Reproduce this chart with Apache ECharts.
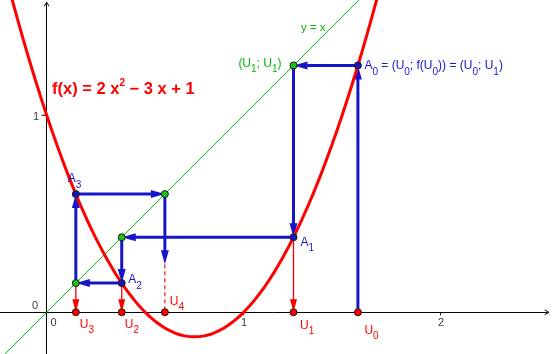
<!DOCTYPE html>
<html><head><meta charset="utf-8">
<script src="https://cdn.jsdelivr.net/npm/echarts@6.0.0/dist/echarts.min.js"></script>
<style>html,body{margin:0;padding:0;background:#fff}#c{width:552px;height:354px}</style>
</head><body><div id="c"></div>
<script>
// ---- data ----
const U = [1.58, 1.253, 0.381, 0.148, 0.600];      // U0..U4
const lastVectorEndY = 0.244;                        // end of the last blue vector
const curveX = [-0.20,-0.15,-0.10,-0.05,0.00,0.05,0.10,0.15,0.20,0.25,0.30,0.35,0.40,0.45,0.50,0.55,0.60,0.65,0.70,0.75,0.80,0.85,0.90,0.95,1.00,1.05,1.10,1.15,1.20,1.25,1.30,1.35,1.40,1.45,1.50,1.55,1.60,1.65,1.70];
const curveY = [1.68,1.495,1.32,1.155,1,0.855,0.72,0.595,0.48,0.375,0.28,0.195,0.12,0.055,0,-0.045,-0.08,-0.105,-0.12,-0.125,-0.12,-0.105,-0.08,-0.045,0,0.055,0.12,0.195,0.28,0.375,0.48,0.595,0.72,0.855,1,1.155,1.32,1.495,1.68];
const diagX = [-0.25, 1.65];
const xTickValues = [1, 2];
const yTickValues = [1];
const xTickLabels = ['1', '2'];
const yTickLabels = ['1'];
const originValue = [0, 0];

const FONT = "'Liberation Sans', Arial, sans-serif";
const BLUE = '#1616c8', RED = '#ff0000', GREEN = '#00b800', GREENPT = '#19c419', DARK = '#1a1a1a';

const blueVecs = [
  [U[0], 0, U[0], U[1]],
  [U[0], U[1], U[1], U[1]],
  [U[1], U[1], U[1], U[2]],
  [U[1], U[2], U[2], U[2]],
  [U[2], U[2], U[2], U[3]],
  [U[2], U[3], U[3], U[3]],
  [U[3], U[3], U[3], U[4]],
  [U[3], U[4], U[4], U[4]],
  [U[4], U[4], U[4], lastVectorEndY]
];
const redVecs = [
  [U[1], U[2], U[1], 0],
  [U[2], U[3], U[2], 0],
  [U[3], U[3], U[3], 0]
];
const redDashed = [[U[4], lastVectorEndY, U[4], 0]];

function arrowSeries(segs, color, width, headLen, headW, dashed, z) {
  return {
    type: 'custom', coordinateSystem: 'cartesian2d', z: z, clip: false, silent: true,
    data: segs,
    encode: { x: [0, 2], y: [1, 3] },
    renderItem: function (params, api) {
      const p1 = api.coord([api.value(0), api.value(1)]);
      const p2 = api.coord([api.value(2), api.value(3)]);
      const dx = p2[0] - p1[0], dy = p2[1] - p1[1];
      const L = Math.hypot(dx, dy) || 1;
      const ux = dx / L, uy = dy / L;
      const children = [];
      const le = headLen ? [p2[0] - ux * headLen * 0.7, p2[1] - uy * headLen * 0.7] : p2;
      children.push({ type: 'line', shape: { x1: p1[0], y1: p1[1], x2: le[0], y2: le[1] },
        style: { stroke: color, lineWidth: width, lineDash: dashed ? [4, 3] : null } });
      if (headLen) {
        const bx = p2[0] - ux * headLen, by = p2[1] - uy * headLen;
        const nx = -uy * headW / 2, ny = ux * headW / 2;
        children.push({ type: 'polygon', shape: { points: [[p2[0], p2[1]], [bx + nx, by + ny], [bx - nx, by - ny]] },
          style: { fill: color } });
      }
      return { type: 'group', children: children };
    }
  };
}

function richStyles(color) {
  return {
    m: { fontSize: 12, lineHeight: 22, verticalAlign: 'middle', color: color, fontFamily: FONT },
    s: { fontSize: 10, lineHeight: 8, verticalAlign: 'bottom', color: color, fontFamily: FONT }
  };
}
function item(coord, text, offset, align) {
  return { value: coord, label: { formatter: text, offset: offset, align: align || 'left' } };
}
function pointSeries(color, labelColor, items, z) {
  return {
    type: 'scatter', z: z, symbolSize: 7, clip: false, silent: true,
    itemStyle: { color: color, borderColor: DARK, borderWidth: 1, opacity: 1 },
    label: { show: true, position: 'inside', verticalAlign: 'middle', color: labelColor, rich: richStyles(labelColor) },
    data: items
  };
}

const tickData = xTickValues.map(v => [v, 0, 0]).concat(yTickValues.map(v => [0, v, 1]));
const tickLabelData =
  xTickValues.map((v, i) => ({ value: [v, 0], label: { formatter: xTickLabels[i], offset: [0.5, 10.5] } }))
  .concat(yTickValues.map((v, i) => ({ value: [0, v], label: { formatter: yTickLabels[i], offset: [-10.5, 1.5] } })))
  .concat([
    { value: originValue, label: { formatter: '0', offset: [-11.5, -6] } },
    { value: originValue, label: { formatter: '0', offset: [6.8, 10.5] } }
  ]);

const arrowPath = 'path://M5,0 L10,8 L8.8,9 L5,3 L1.2,9 L0,8 Z';

const option = {
  animation: false,
  backgroundColor: '#ffffff',
  grid: { left: 0, right: 5, top: 4, bottom: 0, containLabel: false, outerBoundsMode: 'none' },
  xAxis: {
    type: 'value', min: -0.237, max: 2.54,
    axisLine: { onZero: true, symbol: ['none', arrowPath], symbolSize: [7, 5],
      lineStyle: { color: '#000', width: 1 } },
    axisTick: { show: false },
    axisLabel: { show: false },
    splitLine: { show: false }
  },
  yAxis: {
    type: 'value', min: -0.212, max: 1.565,
    axisLine: { onZero: true, symbol: ['none', arrowPath], symbolSize: [7, 5],
      lineStyle: { color: '#000', width: 1 } },
    axisTick: { show: false },
    axisLabel: { show: false },
    splitLine: { show: false }
  },
  graphic: [
    { type: 'text', x: 52, y: 89, z: 50, silent: true,
      style: { text: '{b|f(x) = 2 x}{p|2}{b| \u2212 3 x + 1}', align: 'left', verticalAlign: 'middle',
        rich: {
          b: { fontSize: 16.5, fontWeight: 'bold', lineHeight: 22, verticalAlign: 'middle', fill: RED, fontFamily: FONT },
          p: { fontSize: 10, fontWeight: 'bold', lineHeight: 12, verticalAlign: 'top', fill: RED, fontFamily: FONT }
        } } },
    { type: 'text', x: 301, y: 28, z: 50, silent: true,
      style: { text: 'y = x', align: 'left', verticalAlign: 'middle', fontSize: 11.5, fill: GREEN, fontFamily: FONT } }
  ],
  series: [
    { type: 'custom', coordinateSystem: 'cartesian2d', z: 1, clip: false, silent: true,
      data: tickData, encode: { x: 0, y: 1 },
      renderItem: function (params, api) {
        const p = api.coord([api.value(0), api.value(1)]);
        const isY = api.value(2) === 1;
        return { type: 'line',
          shape: isY ? { x1: p[0] - 5, y1: p[1], x2: p[0], y2: p[1] } : { x1: p[0], y1: p[1], x2: p[0], y2: p[1] + 3 },
          style: { stroke: '#000', lineWidth: 1 } };
      } },
    { type: 'scatter', z: 1, symbolSize: 0, silent: true, clip: false,
      label: { show: true, position: 'inside', color: '#000', fontSize: 11, fontFamily: FONT, align: 'center', verticalAlign: 'middle' },
      data: tickLabelData },
    { type: 'line', z: 2, clip: false, silent: true, showSymbol: false, symbol: 'none',
      data: diagX.map(v => [v, v]), lineStyle: { color: GREEN, width: 1 } },
    arrowSeries(redVecs, RED, 1.3, 13, 7, false, 3),
    arrowSeries(redDashed, RED, 1.1, 0, 0, true, 3),
    arrowSeries(blueVecs, BLUE, 3, 14, 8, false, 4),
    { type: 'line', z: 5, clip: false, silent: true, showSymbol: false, symbol: 'none', smooth: 0.5,
      data: curveX.map((x, i) => [x, curveY[i]]), lineStyle: { color: RED, width: 3 } },
    pointSeries(RED, RED, [
      item([U[0], 0], '{m|U}{s|0}', [6.5, 18]),
      item([U[1], 0], '{m|U}{s|1}', [6.5, 13.5]),
      item([U[2], 0], '{m|U}{s|2}', [3, 12]),
      item([U[3], 0], '{m|U}{s|3}', [4, 12]),
      item([U[4], 0], '{m|U}{s|4}', [5, -10.5])
    ], 10),
    pointSeries(GREENPT, GREEN, [
      item([U[1], U[1]], '{m|(U}{s|1}{m|; U}{s|1}{m|)}', [-12, -2], 'right'),
      item([U[2], U[2]], '', [0, 0]),
      item([U[3], U[3]], '', [0, 0]),
      item([U[4], U[4]], '', [0, 0])
    ], 10),
    pointSeries(BLUE, BLUE, [
      item([U[0], U[1]], '{m|A}{s|0}{m| = (U}{s|0}{m|; f(U}{s|0}{m|)) = (U}{s|0}{m|; U}{s|1}{m|)}', [6.5, 0.5]),
      item([U[1], U[2]], '{m|A}{s|1}', [7, 5]),
      item([U[2], U[3]], '{m|A}{s|2}', [6.5, -3]),
      item([U[3], U[4]], '{m|A}{s|3}', [-8, -15])
    ], 11)
  ]
};
const chart = echarts.init(document.getElementById('c'), null, { renderer: 'canvas' });
chart.setOption(option);
</script></body></html>
